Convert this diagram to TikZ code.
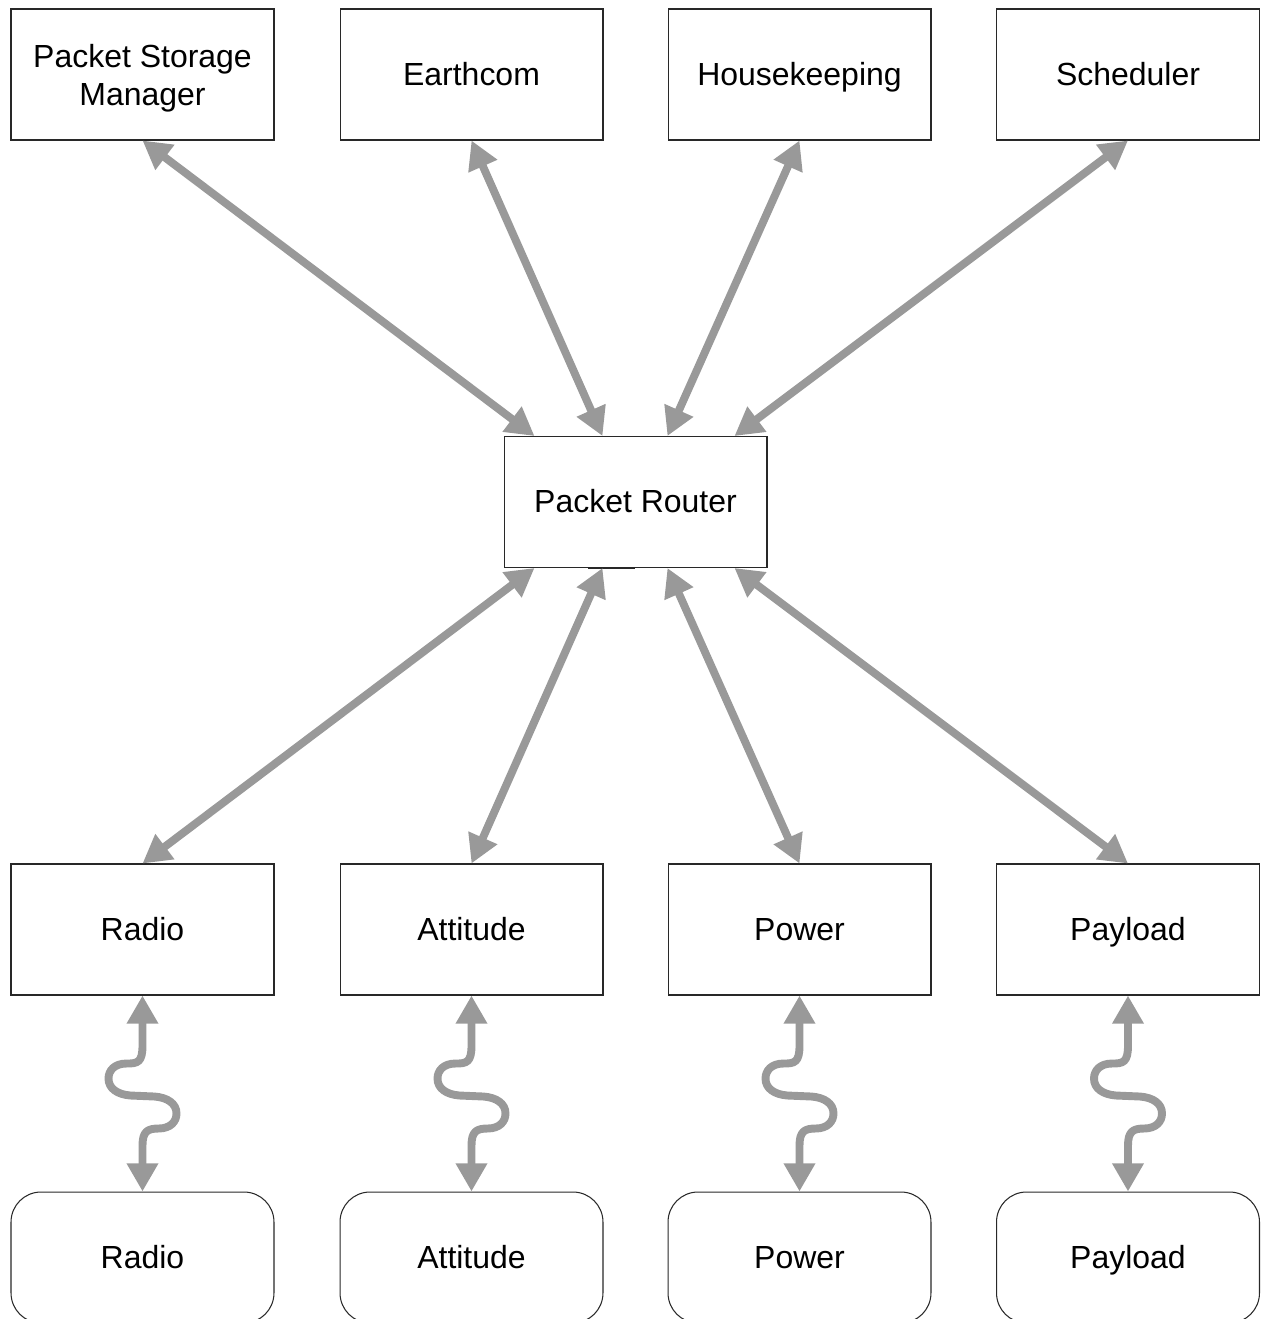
\documentclass[tikz,border=0pt]{standalone}
\usepackage{fontspec}
\setmainfont{Liberation Sans}
\usetikzlibrary{arrows.meta,calc}
\definecolor{arrgray}{RGB}{153,153,153}
\definecolor{boxline}{RGB}{40,40,40}
\newcommand{\boxstrut}{\rule[-4.9pt]{0pt}{22pt}}
\begin{document}
\begin{tikzpicture}[x=0.02cm,y=-0.02cm,
  box/.style={draw=boxline,line width=0.6pt,minimum width=5.26cm,minimum height=2.62cm,inner sep=0pt,align=center,font=\fontsize{18.2}{22}\selectfont,execute at begin node=\boxstrut},
  hwbox/.style={box,rounded corners=0.6cm},
  conn/.style={draw=arrgray,line width=4.5pt,{Triangle[length=16pt,width=17pt]}-{Triangle[length=16pt,width=17pt]}}
]
\useasboundingbox (0,0) rectangle (1266,1319);
\clip (0,0) rectangle (1266,1319);
% top row
\node[box] (psm) at (142.5,74.5) {\rule{0pt}{18.5pt}Packet Storage\\Manager};
\node[box] (earth) at (471.5,74.5) {Earthcom};
\node[box] (house) at (799.5,74.5) {Housekeeping};
\node[box] (sched) at (1128,74.5) {Scheduler};
% router
\node[box] (router) at (635.5,502) {Packet Router};
\coordinate (rn1) at ([xshift=0.62cm]router.north west);
\coordinate (rn2) at ([xshift=1.98cm]router.north west);
\coordinate (rn3) at ([xshift=3.28cm]router.north west);
\coordinate (rn4) at ([xshift=4.62cm]router.north west);
\coordinate (rs1) at ([xshift=0.62cm]router.south west);
\coordinate (rs2) at ([xshift=1.98cm]router.south west);
\coordinate (rs3) at ([xshift=3.28cm]router.south west);
\coordinate (rs4) at ([xshift=4.62cm]router.south west);
\draw[boxline,line width=1.2pt] ([xshift=1.7cm]router.south west) -- ++(47,0);
% middle row
\node[box] (radio) at (142.5,929.5) {Radio};
\node[box] (att) at (471.5,929.5) {Attitude};
\node[box] (pow) at (799.5,929.5) {Power};
\node[box] (pay) at (1128,929.5) {Payload};
% bottom row
\node[hwbox] (hradio) at (142.5,1257.5) {Radio};
\node[hwbox] (hatt) at (471.5,1257.5) {Attitude};
\node[hwbox] (hpow) at (799.5,1257.5) {Power};
\node[hwbox] (hpay) at (1128,1257.5) {Payload};
% straight connectors
\draw[conn] (psm.south) -- (rn1);
\draw[conn] (earth.south) -- (rn2);
\draw[conn] (house.south) -- (rn3);
\draw[conn] (sched.south) -- (rn4);
\draw[conn] (rs1) -- (radio.north);
\draw[conn] (rs2) -- (att.north);
\draw[conn] (rs3) -- (pow.north);
\draw[conn] (rs4) -- (pay.north);
% wavy connectors
\foreach \a/\b in {radio/hradio,att/hatt,pow/hpow,pay/hpay}{
  \draw[conn,line join=round] (\a.south) -- ++(0,50)
    .. controls +(0,17) and +(11,0) .. ++(-16,18)
    .. controls +(-12,0) and +(0,-8) .. ++(-18,15)
    .. controls +(0,10) and +(-13,-1) .. ++(22,17)
    -- ++(24,1)
    .. controls +(13,1) and +(0,-10) .. ++(22,17)
    .. controls +(0,8) and +(12,0) .. ++(-18,15)
    .. controls +(-11,0) and +(0,-14) .. ++(-16,17)
    -- (\b.north);
}
\end{tikzpicture}
\end{document}
